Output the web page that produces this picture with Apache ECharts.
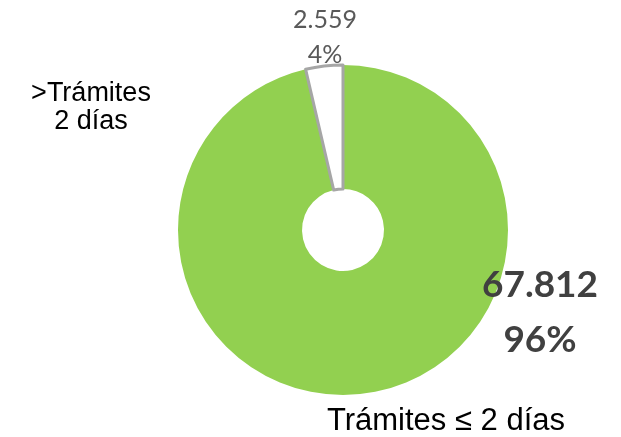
<!DOCTYPE html>
<html>
<head>
<meta charset="utf-8">
<script src="https://cdn.jsdelivr.net/npm/echarts@6/dist/echarts.min.js"></script>
<style>
  html, body { margin: 0; padding: 0; background: #fff; }
  #chart { width: 621px; height: 437px; }
</style>
</head>
<body>
<div id="chart"></div>
<script>
// Trámites split by processing time
const categories = ['Trámites ≤ 2 días', '>Trámites\n2 días'];
const counts = [67812, 2559];
const sliceColors = ['#92D050', '#FFFFFF'];
const sliceBorders = ['#92D050', '#A6A6A6'];

// Spanish thousands separator (67.812)
function fmtThousands(n) {
  return String(n).replace(/\B(?=(\d{3})+(?!\d))/g, '.');
}

const pieData = categories.map((name, i) => ({
  name: name,
  value: counts[i],
  itemStyle: { color: sliceColors[i], borderColor: sliceBorders[i], borderWidth: i === 1 ? 3 : 0 }
}));

// Where each label block sits: value labels and category names
const valuePos = [
  { x: 540, y: 313 },
  { x: 325, y: 37 }
];
const namePos = [
  { x: 446, y: 421, size: 31 },
  { x: 91, y: 108, size: 27 }
];

const chart = echarts.init(document.getElementById('chart'));
chart.setOption({
  backgroundColor: '#ffffff',
  animation: false,
  series: [
    {
      type: 'pie',
      center: [343, 230],
      radius: [41, 165],
      startAngle: 90,
      clockwise: true,
      percentPrecision: 0,
      data: pieData,
      labelLine: { show: false },
      label: {
        show: true,
        overflow: 'none',
        formatter: function (p) {
          const style = p.dataIndex === 0 ? 'b' : 's';
          return '{' + style + '|' + fmtThousands(p.value) + '}\n{' + style + '|' + Math.round(p.percent) + '%}';
        },
        rich: {
          b: { fontFamily: 'Lato', fontWeight: 'bold', fontSize: 37, color: '#404040', lineHeight: 55, align: 'center' },
          s: { fontFamily: 'Lato', fontSize: 25, color: '#595959', lineHeight: 35, align: 'center' }
        }
      },
      labelLayout: function (params) {
        const pos = valuePos[params.dataIndex];
        return { x: pos.x, y: pos.y, align: 'center', verticalAlign: 'middle' };
      },
      emphasis: { disabled: true }
    },
    {
      // invisible copy of the ring that carries the category names
      type: 'pie',
      center: [343, 230],
      radius: [41, 165],
      startAngle: 90,
      clockwise: true,
      silent: true,
      z: 1,
      data: categories.map((name, i) => ({
        name: name,
        value: counts[i],
        label: { fontSize: namePos[i].size }
      })),
      itemStyle: { color: 'rgba(0,0,0,0)', borderWidth: 0 },
      labelLine: { show: false },
      label: {
        show: true,
        overflow: 'none',
        formatter: '{b}',
        fontFamily: 'Liberation Sans',
        lineHeight: 28,
        color: '#000000',
        align: 'center'
      },
      labelLayout: function (params) {
        const pos = namePos[params.dataIndex];
        return { x: pos.x, y: pos.y, align: 'center', verticalAlign: 'middle' };
      },
      emphasis: { disabled: true }
    }
  ]
});
</script>
</body>
</html>
